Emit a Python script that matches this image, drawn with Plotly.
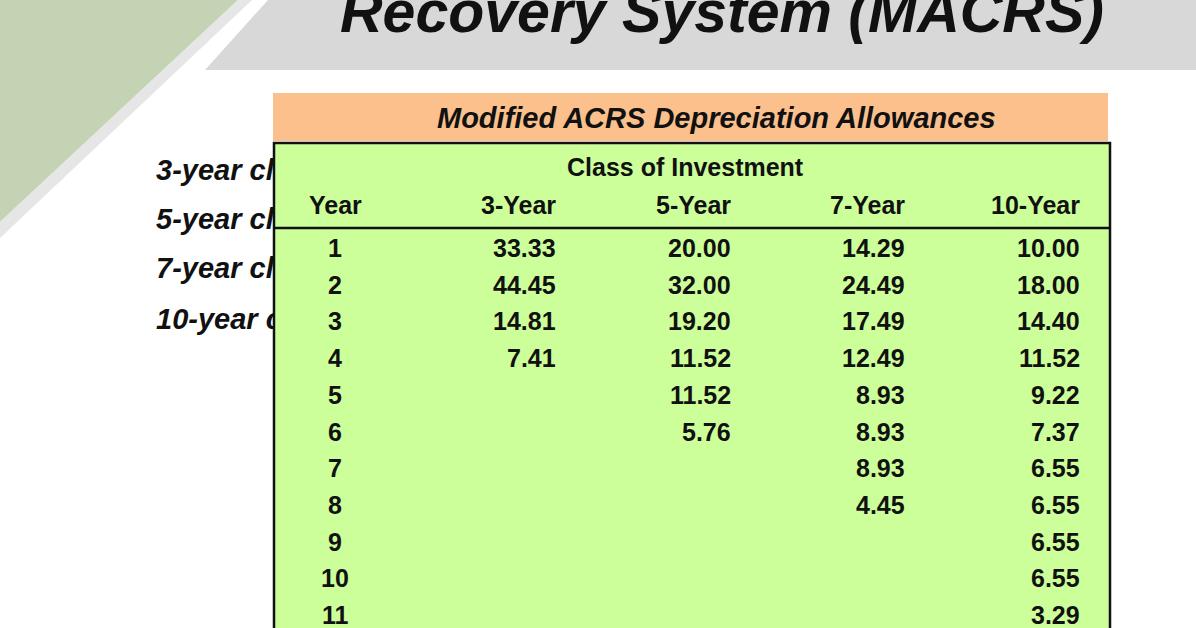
import plotly.graph_objects as go

title = "Recovery System (MACRS)"
table_title = "Modified ACRS Depreciation Allowances"
group_label = "Class of Investment"
columns = ["Year", "3-Year", "5-Year", "7-Year", "10-Year"]
years = [1, 2, 3, 4, 5, 6, 7, 8, 9, 10, 11]
y3 = ["33.33", "44.45", "14.81", "7.41"]
y5 = ["20.00", "32.00", "19.20", "11.52", "11.52", "5.76"]
y7 = ["14.29", "24.49", "17.49", "12.49", "8.93", "8.93", "8.93", "4.45"]
y10 = ["10.00", "18.00", "14.40", "11.52", "9.22", "7.37", "6.55", "6.55", "6.55", "6.55", "3.29"]
side_labels = ["3-year classes", "5-year classes", "7-year classes", "10-year classes"]

W, H = 1196, 628
FONT = "Liberation Sans, Arial, sans-serif"
fig = go.Figure()

fig.add_trace(go.Scatter(
    x=[156] * len(side_labels), y=[173, 222, 271, 322], mode="text",
    text=[f"<b><i>{s}</i></b>" for s in side_labels], textposition="middle right",
    textfont=dict(family=FONT, size=29, color="#111"), hoverinfo="skip", showlegend=False))

shapes = []
shapes.append(dict(type="path", path="M0,0 L238,0 L0,222 Z", fillcolor="#c4d3b3", line_width=0, layer="below"))
shapes.append(dict(type="path", path="M268,0 L1196,0 L1196,70 L205,70 Z", fillcolor="#d8d8d8", line_width=0, layer="below"))
shapes.append(dict(type="path", path="M238,0 L252,0 L0,238 L0,222 Z", fillcolor="#e6e6e6", line_width=0, layer="below"))
shapes.append(dict(type="rect", x0=273, x1=1108, y0=93, y1=141, fillcolor="#fbc08c", line_width=0, layer="above"))
shapes.append(dict(type="rect", x0=274, x1=1110, y0=143, y1=640, fillcolor="#ccfe99",
                   line=dict(color="#111", width=2.5), layer="above"))
shapes.append(dict(type="line", x0=274, x1=1110, y0=228, y1=228, line=dict(color="#111", width=2.5), layer="above"))

ann = []
ann.append(dict(x=722, y=12, text=f"<b><i>{title}</i></b>", showarrow=False,
                font=dict(family=FONT, size=59, color="#111")))
ann.append(dict(x=716, y=118, text=f"<b><i>{table_title}</i></b>", showarrow=False,
                font=dict(family=FONT, size=29, color="#111")))
ann.append(dict(x=685, y=167, text=f"<b>{group_label}</b>", showarrow=False,
                font=dict(family=FONT, size=25, color="#111")))
col_right = [None, 558, 733, 907, 1082]
ann.append(dict(x=335, y=205, text=f"<b>{columns[0]}</b>", showarrow=False,
                font=dict(family=FONT, size=25, color="#111")))
for c, xr in zip(columns[1:], col_right[1:]):
    ann.append(dict(x=xr, y=205, text=f"<b>{c}</b>", showarrow=False, xanchor="right",
                    font=dict(family=FONT, size=25, color="#111")))
row_y = [248 + i * 36.7 for i in range(len(years))]
for yr, ry in zip(years, row_y):
    ann.append(dict(x=335, y=ry, text=f"<b>{yr}</b>", showarrow=False,
                    font=dict(family=FONT, size=25, color="#111")))
for vals, xr in zip([y3, y5, y7, y10], col_right[1:]):
    for v, ry in zip(vals, row_y):
        ann.append(dict(x=xr, y=ry, text=f"<b>{v}</b>", showarrow=False, xanchor="right",
                        font=dict(family=FONT, size=25, color="#111")))
for a in ann:
    a.update(xref="x", yref="y")

fig.update_layout(width=W, height=H, margin=dict(l=0, r=0, t=0, b=0),
                  paper_bgcolor="white", plot_bgcolor="white",
                  xaxis=dict(range=[0, W], visible=False, fixedrange=True),
                  yaxis=dict(range=[H, 0], visible=False, fixedrange=True),
                  shapes=shapes, annotations=ann, showlegend=False)
fig.write_html("out.html", config={"displayModeBar": False},
               post_script="document.body.style.margin='0';document.body.style.overflow='hidden';")
